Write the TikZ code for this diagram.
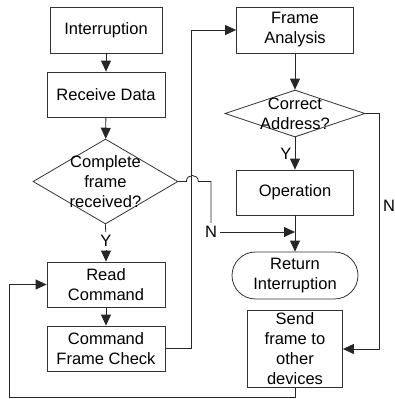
\documentclass[tikz,border=0pt]{standalone}
\usepackage{fontspec}
\setmainfont{Liberation Sans}
\usetikzlibrary{shapes.geometric,shapes.misc,arrows.meta}
\begin{document}
\begin{tikzpicture}[x=1pt, y=-1pt,
            every node/.style={font=\fontsize{16.5}{20}\selectfont, align=center},
            box/.style={rectangle,draw=black!80,line width=0.8pt,inner sep=0pt},
            dec/.style={diamond,draw=black!80,line width=0.8pt,inner sep=0pt},
            term/.style={rounded rectangle,draw=black!80,line width=0.8pt,inner sep=0pt},
            ln/.style={draw=black!85,line width=0.8pt},
            arr/.style={-{Triangle[length=11pt,width=10pt]}}]
            \useasboundingbox (0,0) rectangle (395,399);

            \node[box,minimum width=112pt,minimum height=46pt] (intr) at (106,30) {Interruption};
            \node[box,minimum width=118pt,minimum height=45pt] (recv) at (106,94.5) {Receive Data};
            \node[dec,minimum width=145pt,minimum height=85pt] (cfr) at (105.5,181.5) {};
            \node (cfrt) at (cfr) {Complete\\frame\\received?};
            \node (y1) at (106,241) {Y};
            \node[box,minimum width=118pt,minimum height=45pt] (readc) at (106,284.5) {Read\\Command};
            \node[box,minimum width=118pt,minimum height=45pt] (cfc) at (106,348.5) {Command\\Frame Check};

            \node[box,minimum width=117pt,minimum height=46pt] (fana) at (295,30) {Frame\\Analysis};
            \node[dec,minimum width=140pt,minimum height=47pt] (cadr) at (295,113.5) {};
            \node (cadrt) at (cadr) {Correct\\Address?};
            \node[box,minimum width=117pt,minimum height=45pt] (oper) at (295,192.5) {Operation};
            \node[term,minimum width=126pt,minimum height=47pt] (ret) at (295,275.5) {Return\\Interruption};
            \node[box,minimum width=95pt,minimum height=77pt] (send) at (295,349) {Send\\frame to\\other\\devices};

            \node (n1) at (211,232) {N};
            \node[anchor=west,inner sep=0pt] (n2) at (383,206) {N};

            \draw[ln,arr] (intr) -- (recv);
            \draw[ln,arr] (recv) -- (cfr);
            \draw[ln] (cfr.south) -- (y1);
            \draw[ln,arr] (y1) -- (readc);
            \draw[ln,arr] (readc) -- (cfc);

            \draw[ln,arr] (cfc.east) -- ++(26,0) |- (fana.west);
            \draw[ln,arr] (fana.south) -- (cadr.north);
            \draw[ln,arr] (cadr.south) -- node[left] (y2) {Y} (oper.north);
            \draw[ln,arr] (oper) -- (ret);

            \draw[ln] (cfr.east) -- ++(8,0) .. controls +(0,-8) and +(0,-8) .. ++(12,0) -| (n1.north);
            \draw[ln,arr] (n1.east) -- (oper.south |- n1.east);

            \draw[ln,arr] (cadr.east) -- ++(14,0) |- (send.east);

            \coordinate (lp) at (9,397);
            \draw[ln,arr] (send.south) |- (lp) |- (readc.west);
        \end{tikzpicture}
\end{document}
